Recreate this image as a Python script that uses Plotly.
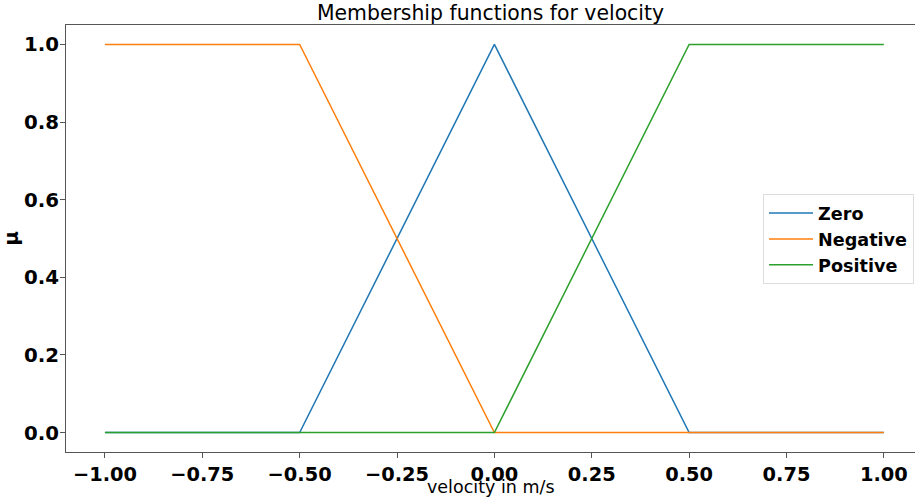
import plotly.graph_objects as go

x_vals = [-1.0, -0.5, 0.0, 0.5, 1.0]
zero_vals = [0.0, 0.0, 1.0, 0.0, 0.0]
negative_vals = [1.0, 1.0, 0.0, 0.0, 0.0]
positive_vals = [0.0, 0.0, 0.0, 1.0, 1.0]

x_ticks = [-1.0, -0.75, -0.5, -0.25, 0.0, 0.25, 0.5, 0.75, 1.0]
x_tick_labels = ["\u22121.00", "\u22120.75", "\u22120.50", "\u22120.25", "0.00", "0.25", "0.50", "0.75", "1.00"]
y_ticks = [0.0, 0.2, 0.4, 0.6, 0.8, 1.0]
y_tick_labels = ["0.0", "0.2", "0.4", "0.6", "0.8", "1.0"]

fig = go.Figure()
fig.add_trace(go.Scatter(x=x_vals, y=zero_vals, mode="lines", name="Zero",
                         line=dict(color="#1f77b4", width=1.5)))
fig.add_trace(go.Scatter(x=x_vals, y=negative_vals, mode="lines", name="Negative",
                         line=dict(color="#ff7f0e", width=1.5)))
fig.add_trace(go.Scatter(x=x_vals, y=positive_vals, mode="lines", name="Positive",
                         line=dict(color="#2ca02c", width=1.5)))

fig.update_layout(
    width=915, height=498,
    margin=dict(l=66, r=0, t=25, b=46, autoexpand=False),
    paper_bgcolor="white", plot_bgcolor="white",
    font=dict(family="DejaVu Sans", color="black"),
    title=dict(text="Membership functions for velocity", font=dict(size=20.4, family="DejaVu Sans"),
               x=0.5, xref="paper", xanchor="center", y=1 - 13 / 498, yref="container", yanchor="middle"),
    xaxis=dict(range=[-1.1, 1.08], tickvals=x_ticks, ticktext=x_tick_labels,
               showgrid=False, zeroline=False, showline=True, linecolor="#555", linewidth=1,
               mirror=True, ticks="outside", ticklen=5, tickcolor="#555",
               automargin=False,
               tickfont=dict(size=19.4, family="DejaVu Sans", weight="bold")),
    yaxis=dict(range=[-0.05, 1.05], tickvals=y_ticks, ticktext=y_tick_labels,
               showgrid=False, zeroline=False, showline=True, linecolor="#555", linewidth=1,
               ticks="outside", ticklen=5, tickcolor="#555",
               ticklabelstandoff=-3, automargin=False,
               tickfont=dict(size=19.8, family="DejaVu Sans", weight="bold"),
               title=dict(text="<b>\u03bc</b>", font=dict(size=19.8), standoff=4)),
    legend=dict(x=0.821, y=0.604, xanchor="left", yanchor="top",
                bgcolor="rgba(255,255,255,0.8)", bordercolor="#dddddd", borderwidth=1,
                font=dict(size=17.6, family="DejaVu Sans", weight="bold"),
                tracegroupgap=0, itemwidth=44),
    showlegend=True,
    annotations=[dict(text="velocity in m/s", xref="paper", yref="paper", x=0.5, y=-35 / 427,
                      xanchor="center", yanchor="middle", showarrow=False,
                      font=dict(size=17.5, family="DejaVu Sans", color="black"))],
)

fig.write_html("out.html")
